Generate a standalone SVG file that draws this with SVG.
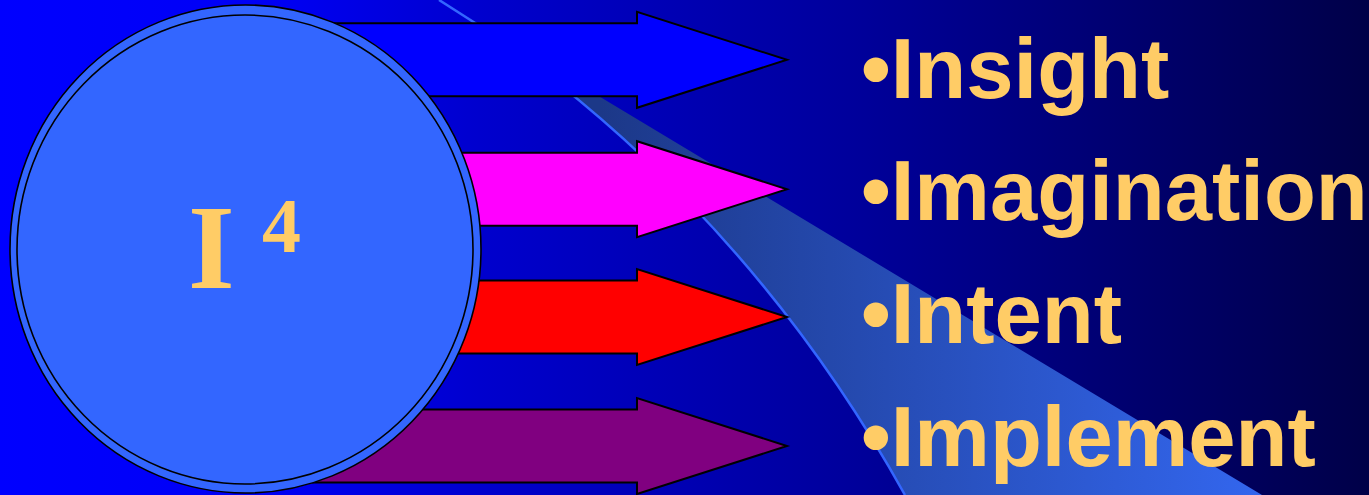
<svg xmlns="http://www.w3.org/2000/svg" width="1369" height="495" viewBox="0 0 1369 495">
  <defs>
    <linearGradient id="bg" gradientUnits="userSpaceOnUse" x1="0" y1="0" x2="1369" y2="0">
      <stop offset="0" stop-color="#0000FF"/>
      <stop offset="0.2" stop-color="#0000F4"/>
      <stop offset="0.35" stop-color="#0000CE"/>
      <stop offset="0.62" stop-color="#00009C"/>
      <stop offset="1" stop-color="#000048"/>
    </linearGradient>
    <linearGradient id="band" gradientUnits="userSpaceOnUse" x1="600" y1="0" x2="1260" y2="0">
      <stop offset="0" stop-color="#1C3888"/>
      <stop offset="1" stop-color="#3366EE"/>
    </linearGradient>
    <path id="arrow" d="M240,-36.5 H637 V-48 L787,0 L637,48 V36.5 H240 Z"/>
    <style>
      .arrow { stroke: #000; stroke-width: 2; stroke-linejoin: miter; }
      .item { font-family: "Liberation Sans", Arial, sans-serif; font-weight: bold; font-size: 85px; fill: #FFCC66; }
      .ring { stroke: #000; stroke-width: 1.6; }
      .serif { font-family: "Liberation Serif", "Times New Roman", serif; font-weight: bold; fill: #FFCC66; }
    </style>
  </defs>

  <g id="background">
    <rect x="0" y="0" width="1369" height="495" fill="url(#bg)"/>
    <path d="M439,0 C610,105 780,270 905,495 L1262,495 Z" fill="url(#band)"/>
    <path d="M439,0 C610,105 780,270 905,495" fill="none" stroke="#3366FF" stroke-width="2.5"/>
  </g>

  <g id="connectors">
    <use href="#arrow" class="arrow" fill="#0000FF" transform="translate(0,59.8)"/>
    <use href="#arrow" class="arrow" fill="#FF00FF" transform="translate(0,189.2)"/>
    <use href="#arrow" class="arrow" fill="#FF0000" transform="translate(0,317)"/>
    <use href="#arrow" class="arrow" fill="#800080" transform="translate(0,446)"/>
  </g>

  <g id="node-i4">
    <ellipse cx="245.5" cy="249" rx="235.5" ry="244" fill="#3366FF" class="ring"/>
    <ellipse cx="245" cy="249.5" rx="228" ry="234.5" fill="none" class="ring"/>
    <text x="188" y="288" class="serif" font-size="120">I</text>
    <text x="262" y="252" class="serif" font-size="78">4</text>
  </g>

  <g id="node-insight"><text x="861" y="98" class="item">•Insight</text></g>
  <g id="node-imagination"><text x="861" y="220" class="item">•Imagination</text></g>
  <g id="node-intent"><text x="861" y="343" class="item">•Intent</text></g>
  <g id="node-implement"><text x="861" y="466" class="item">•Implement</text></g>
</svg>
